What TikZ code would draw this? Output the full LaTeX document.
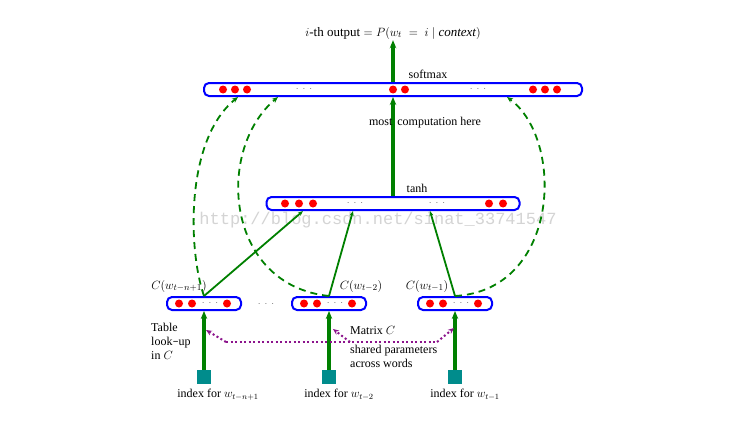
\documentclass[tikz,border=0pt]{standalone}
\usepackage{fontspec}
\setmainfont{Liberation Serif}
\newfontfamily\wmfont{Liberation Mono}
\usetikzlibrary{arrows.meta}
\definecolor{barblue}{RGB}{0,0,255}
\definecolor{dotred}{RGB}{255,0,0}
\definecolor{lgreen}{RGB}{0,128,0}
\definecolor{sqteal}{RGB}{0,140,140}
\definecolor{mpurple}{RGB}{140,20,140}
\definecolor{wmgray}{RGB}{212,212,212}
\definecolor{ellgray}{RGB}{110,110,110}
\begin{document}
\begin{tikzpicture}[x=1pt,y=-1pt,
  bar/.style={draw=barblue,line width=2pt,rounded corners=5pt,minimum height=13pt,inner sep=0pt,fill=white},
  rdot/.style={circle,fill=dotred,minimum size=8pt,inner sep=0pt},
  ell/.style={font=\fontsize{10}{10}\selectfont,text=ellgray,inner sep=0pt},
  sq/.style={fill=sqteal,minimum size=14pt,inner sep=0pt},
  lbl/.style={font=\fontsize{12}{14}\selectfont,inner sep=0pt},
  bigarrow/.style={draw=lgreen,line width=3.2pt,-{Stealth[length=8pt,width=6.5pt]}},
  thinline/.style={draw=lgreen,line width=1.8pt,-{Stealth[length=5pt,width=4pt]}},
  dashcurve/.style={draw=lgreen,line width=1.8pt,dash pattern=on 7pt off 5pt,-{Stealth[length=6pt,width=5pt]}},
  purpdot/.style={draw=mpurple,line width=2pt,dash pattern=on 2pt off 2.5pt,-{Stealth[length=6pt,width=5pt]}},
]
\useasboundingbox (0,0) rectangle (746,420);
\fill[white] (0,0) rectangle (746,420);

% watermark
\node[text=wmgray,font=\wmfont\fontsize{17}{17}\selectfont,inner sep=0pt] (wm) at (378,220) {http://blog.csdn.net/sinat\_33741547};

% bars
\node[bar,minimum width=378pt] (top) at (393,89.5) {};
\node[bar,minimum width=253pt] (hid) at (393,203.5) {};
\node[bar,minimum width=74pt] (b1) at (204,303.5) {};
\node[bar,minimum width=74pt] (b2) at (329,303.5) {};
\node[bar,minimum width=74pt] (b3) at (455,303.5) {};

% dots in top bar
\foreach \x [count=\i] in {223,235,247,393,405,533,545,557}
  \node[rdot] (td\i) at (\x,89.5) {};
\node[ell] (te1) at (304,89.5) {$\cdot\,\cdot\,\cdot$};
\node[ell] (te2) at (478,89.5) {$\cdot\,\cdot\,\cdot$};
% dots in tanh bar
\foreach \x [count=\i] in {285,299,313,489,503}
  \node[rdot] (hd\i) at (\x,203.5) {};
\node[ell] (he1) at (355,203.5) {$\cdot\,\cdot\,\cdot$};
\node[ell] (he2) at (437,203.5) {$\cdot\,\cdot\,\cdot$};
% dots in bottom bars
\foreach \b/\c in {1/204,2/329,3/455}{
  \node[rdot] (bd\b a) at (\c-25,303.5) {};
  \node[rdot] (bd\b b) at (\c-12,303.5) {};
  \node[ell] (be\b) at (\c+6,303.5) {$\cdot\,\cdot\,\cdot$};
  \node[rdot] (bd\b c) at (\c+23,303.5) {};
}
\node[ell] (bgap) at (266,304) {$\cdot\,\cdot\,\cdot$};

% index squares
\node[sq] (s1) at (204,377) {};
\node[sq] (s2) at (329,377) {};
\node[sq] (s3) at (455,377) {};

% vertical arrows
\draw[bigarrow] (s1.north) -- (b1.south);
\draw[bigarrow] (s2.north) -- (b2.south);
\draw[bigarrow] (s3.north) -- (b3.south);
\draw[bigarrow] (hid.north) -- (top.south);

% output text
\node[font=\fontsize{13}{15}\selectfont,inner sep=1pt] (out) at (393,33)
  {$i$-th output${}=P(w_t\;=\;i\mid \mathit{context})$};
\draw[bigarrow] (top.north) -- (top.north |- out.south);

% labels
\node[lbl] (lsm) at (428,74) {softmax};
\node[lbl] (lmc) at (425,122.5) {most\, computation here};
\node[lbl] (lth) at (417,188) {tanh};
\node[lbl,font=\fontsize{13}{14}\selectfont] (lc1) at (179,286) {$C(w_{t-n+1})$};
\node[lbl,font=\fontsize{13}{14}\selectfont] (lc2) at (361,286) {$C(w_{t-2})$};
\node[lbl,font=\fontsize{13}{14}\selectfont] (lc3) at (427,286) {$C(w_{t-1})$};

% bottom-to-hidden lines
\coordinate (h1) at (303,211);
\coordinate (h2) at (353,211);
\coordinate (h3) at (430,211);
\draw[thinline] (b1.north) -- (h1);
\draw[thinline] (b2.north) -- (h2);
\draw[thinline] (b3.north) -- (h3);

% dashed curves (arrow into the softmax bar)
\coordinate (t1) at (238,97);
\coordinate (t2) at (278,97);
\coordinate (t3) at (507,97);
\draw[dashcurve] (b1.north) .. controls (188,250) and (185,140) .. (t1);
\draw[dashcurve] (b2.north) .. controls (225,285) and (215,150) .. (t2);
\draw[dashcurve] (b3.north) .. controls (560,290) and (565,140) .. (t3);

% purple dotted
\coordinate (p1) at (226,342);
\coordinate (p2) at (437,342);
\coordinate (pm) at (350,342);
\coordinate (a1) at (206,330);
\coordinate (a2) at (333,329);
\coordinate (a3) at (454,328);
\draw[purpdot] (p1) -- (a1);
\draw[purpdot,-] (p1) -- (p2);
\draw[purpdot] (p2) -- (a3);
\draw[purpdot] (pm) -- (a2);

% text labels bottom
\node[lbl,align=left,anchor=north west] (ltab) at (151,323)
  {Table\\[0pt]look\texttt{-}up\\[0pt]in $C$};
\node[lbl,anchor=west] (lmat) at (350,330) {Matrix $C$};
\node[lbl,align=left,anchor=north west] (lsh) at (350,345)
  {shared parameters\\across words};
\node[lbl,font=\fontsize{12}{14}\selectfont] (li1) at (218,395) {index for $w_{t-n+1}$};
\node[lbl] (li2) at (339,395) {index for $w_{t-2}$};
\node[lbl] (li3) at (465,395) {index for $w_{t-1}$};
\end{tikzpicture}
\end{document}
